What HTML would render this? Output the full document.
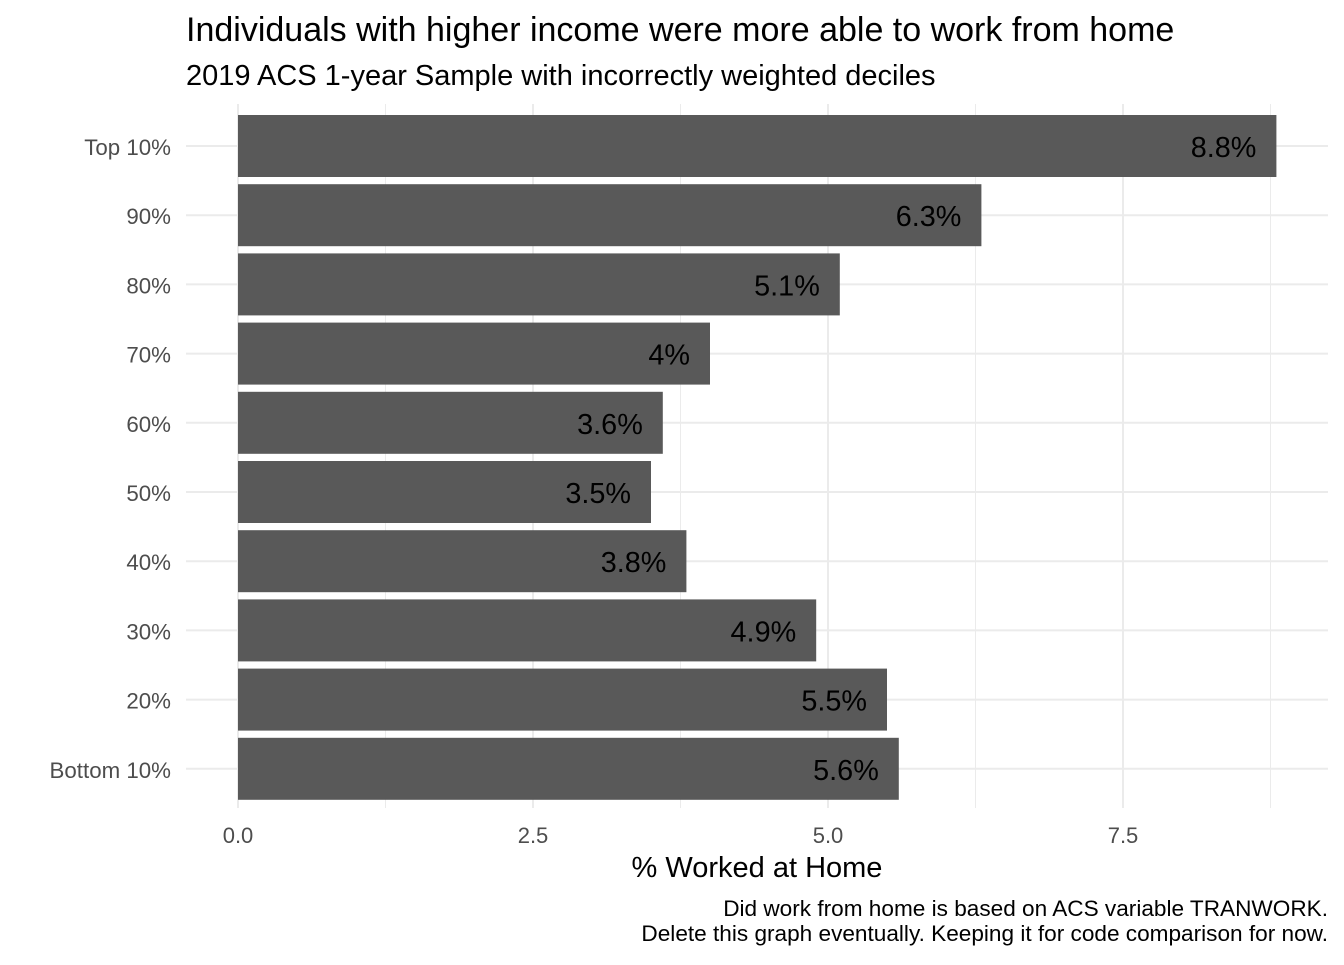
<!DOCTYPE html>
<html><head><meta charset="utf-8"><style>
body{margin:0;background:#fff;width:1344px;height:960px;overflow:hidden;font-family:"Liberation Sans",Arial,sans-serif}
</style></head><body>
<svg id="chart" width="1344" height="960" style="font-family:'Liberation Sans',Arial,sans-serif">
<text x="186" y="41" font-size="34" fill="#000">Individuals with higher income were more able to work from home</text>
<text x="186" y="85" font-size="29" fill="#000">2019 ACS 1-year Sample with incorrectly weighted deciles</text>
<g id="grid"></g>
<g id="bars"></g>
<g id="yaxis"></g>
<g id="xaxis"></g>
<text x="757" y="877" font-size="29" text-anchor="middle" fill="#000">% Worked at Home</text>
<text x="1328" y="916" font-size="22.6" text-anchor="end" fill="#000">Did work from home is based on ACS variable TRANWORK.</text>
<text x="1328" y="941" font-size="22.6" text-anchor="end" fill="#000">Delete this graph eventually. Keeping it for code comparison for now.</text>
</svg>
<script>
const categories=["Top 10%","90%","80%","70%","60%","50%","40%","30%","20%","Bottom 10%"];
const values=[8.8,6.3,5.1,4.0,3.6,3.5,3.8,4.9,5.5,5.6];
const valueLabels=["8.8%","6.3%","5.1%","4%","3.6%","3.5%","3.8%","4.9%","5.5%","5.6%"];
const xTicks=[0,2.5,5,7.5];
const xTickLabels=["0.0","2.5","5.0","7.5"];
const xMinor=[1.25,3.75,6.25,8.75];
const NS="http://www.w3.org/2000/svg";
const x=v=>238+v*118;
const step=69.2;
const y=i=>146+i*step;
const barH=62;
function mk(tag,attrs,parent){const e=document.createElementNS(NS,tag);for(const k in attrs)e.setAttribute(k,attrs[k]);parent.appendChild(e);return e;}
const grid=document.getElementById('grid'),bars=document.getElementById('bars'),ya=document.getElementById('yaxis'),xa=document.getElementById('xaxis');
xMinor.forEach(v=>{const l=mk('line',{x1:x(v),x2:x(v),y1:104,y2:808,stroke:'#ebebeb','stroke-width':1},grid);

});
xTicks.forEach((v,i)=>{const l=mk('line',{x1:x(v),x2:x(v),y1:104,y2:808,stroke:'#ebebeb','stroke-width':2},grid);


const t=mk('text',{x:x(v),y:843,'font-size':22,'text-anchor':'middle',fill:'#4d4d4d'},xa);t.textContent=xTickLabels[i];

});
categories.forEach((c,i)=>{const l=mk('line',{x1:186,x2:1328,y1:y(i),y2:y(i),stroke:'#ebebeb','stroke-width':2},grid);


const r=mk('rect',{x:x(0),y:y(i)-barH/2,width:x(values[i])-x(0),height:barH,fill:'#595959'},bars);


const t=mk('text',{x:x(values[i])-20,y:y(i)+11,'font-size':28.8,'text-anchor':'end',fill:'#000'},bars);t.textContent=valueLabels[i];


const yl=mk('text',{x:171,y:y(i)+9,'font-size':22.3,'text-anchor':'end',fill:'#4d4d4d'},ya);yl.textContent=c;

});
</script>
</body></html>
